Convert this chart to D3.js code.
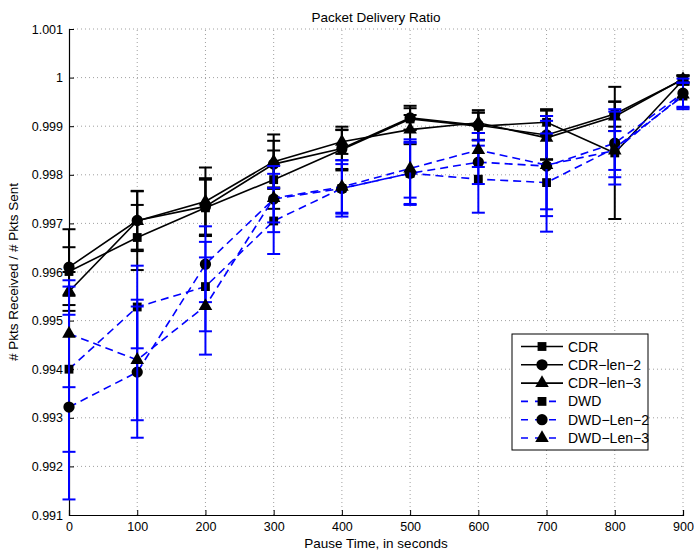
<!DOCTYPE html>
<html>
<head>
<meta charset="utf-8">
<script src="https://cdn.jsdelivr.net/npm/d3@7"></script>
<style>
  body { margin: 0; background: #fff; }
  text { font-family: "Liberation Sans", Arial, sans-serif; }
</style>
</head>
<body>
<div id="container"></div>
<script>
/* CONSTANTS AND GLOBALS */
const width = 694,
  height = 553,
  margin = { top: 29, bottom: 38, left: 69, right: 11 };

// pause times
const pauseTimes = [0, 100, 200, 300, 400, 500, 600, 700, 800, 900];
const seriesNames = ["CDR", "CDR\u2212len\u22122", "CDR\u2212len\u22123", "DWD", "DWD\u2212Len\u22122", "DWD\u2212Len\u22123"];

// mean delivery ratio per series
const cdr      = [0.99601, 0.99671, 0.99732, 0.99790, 0.99852, 0.99915, 0.99900, 0.99908, 0.99845, 0.99995];
const cdrLen2  = [0.99610, 0.99706, 0.99735, 0.99822, 0.99854, 0.99917, 0.99902, 0.99882, 0.99925, 0.99996];
const cdrLen3  = [0.99560, 0.99705, 0.99745, 0.99827, 0.99868, 0.99893, 0.99907, 0.99876, 0.99920, 0.99997];
const dwd      = [0.99400, 0.99528, 0.99570, 0.99705, 0.99772, 0.99803, 0.99791, 0.99784, 0.99855, 0.99962];
const dwdLen2  = [0.99322, 0.99394, 0.99616, 0.99750, 0.99772, 0.99803, 0.99826, 0.99818, 0.99865, 0.99968];
const dwdLen3  = [0.99473, 0.99419, 0.99530, 0.99752, 0.99775, 0.99813, 0.99851, 0.99820, 0.99850, 0.99965];

// error bar half widths
const cdrErr     = [0.00050, 0.00067, 0.00058, 0.00060, 0.00040, 0.00022, 0.00028, 0.00027, 0.00136, 0.00010];
const cdrLen2Err = [0.00078, 0.00060, 0.00058, 0.00048, 0.00045, 0.00025, 0.00031, 0.00050, 0.00026, 0.00008];
const cdrLen3Err = [0.00040, 0.00062, 0.00070, 0.00056, 0.00025, 0.00030, 0.00021, 0.00045, 0.00030, 0.00006];
const dwdErr     = [0.00170, 0.00085, 0.00092, 0.00068, 0.00050, 0.00065, 0.00069, 0.00101, 0.00075, 0.00027];
const dwdLen2Err = [0.00190, 0.00135, 0.00078, 0.00068, 0.00058, 0.00063, 0.00045, 0.00103, 0.00070, 0.00030];
const dwdLen3Err = [0.00110, 0.00124, 0.00100, 0.00050, 0.00055, 0.00060, 0.00035, 0.00091, 0.00040, 0.00025];

const yTicks = [0.991, 0.992, 0.993, 0.994, 0.995, 0.996, 0.997, 0.998, 0.999, 1, 1.001];

const series = [
  { name: seriesNames[0], values: cdr,     err: cdrErr,     color: "#000", dash: null,  marker: "square" },
  { name: seriesNames[1], values: cdrLen2, err: cdrLen2Err, color: "#000", dash: null,  marker: "circle" },
  { name: seriesNames[2], values: cdrLen3, err: cdrLen3Err, color: "#000", dash: null,  marker: "triangle" },
  { name: seriesNames[3], values: dwd,     err: dwdErr,     color: "#0000ff", dash: "8,5", marker: "square" },
  { name: seriesNames[4], values: dwdLen2, err: dwdLen2Err, color: "#0000ff", dash: "8,5", marker: "circle" },
  { name: seriesNames[5], values: dwdLen3, err: dwdLen3Err, color: "#0000ff", dash: "8,5", marker: "triangle" }
];

const symbolOf = {
  square: d3.symbol().type(d3.symbolSquare).size(78),
  circle: d3.symbol().type(d3.symbolCircle).size(100),
  triangle: d3.symbol().type(d3.symbolTriangle).size(80)
};

/* SCALES */
const xScale = d3.scaleLinear()
  .domain([0, 900])
  .range([margin.left, width - margin.right]);

const yScale = d3.scaleLinear()
  .domain([0.991, 1.001])
  .range([height - margin.bottom, margin.top]);

/* SVG */
const svg = d3.select("#container").append("svg")
  .attr("width", width)
  .attr("height", height);

// grid
svg.append("g")
  .selectAll("line")
  .data(pauseTimes.slice(1))
  .join("line")
  .attr("x1", d => xScale(d)).attr("x2", d => xScale(d))
  .attr("y1", yScale(0.991)).attr("y2", yScale(1.001))
  .attr("stroke", "#888").attr("stroke-width", 0.8)
  .attr("stroke-dasharray", "1,3");

svg.append("g")
  .selectAll("line")
  .data(yTicks.slice(1))
  .join("line")
  .attr("x1", xScale(0)).attr("x2", xScale(900))
  .attr("y1", d => yScale(d)).attr("y2", d => yScale(d))
  .attr("stroke", "#888").attr("stroke-width", 0.8)
  .attr("stroke-dasharray", "1,3");

// axes
const xAxis = svg.append("g")
  .attr("transform", `translate(0, ${yScale(0.991)})`)
  .call(d3.axisBottom(xScale).tickValues(pauseTimes).tickSize(-5).tickPadding(7).tickFormat(d3.format("d")));

const yAxis = svg.append("g")
  .attr("transform", `translate(${xScale(0)}, 0)`)
  .call(d3.axisLeft(yScale).tickValues(yTicks).tickSize(-5).tickPadding(6)
    .tickFormat(d => d === 1 ? "1" : d3.format(".3f")(d)));

[xAxis, yAxis].forEach(ax => {
  ax.select(".domain").attr("stroke", "#000").attr("stroke-width", 1.2);
  ax.selectAll(".tick line").attr("stroke", "#000");
  ax.selectAll(".tick text").attr("fill", "#000")
    .style("font-size", "12.5px");
});

// lines
const lineGen = d3.line()
  .x((d, i) => xScale(pauseTimes[i]))
  .y(d => yScale(d));

const plot = svg.append("g");

series.forEach(s => {
  // error bars
  const eb = plot.append("g");
  eb.selectAll("line.stem")
    .data(s.values)
    .join("line")
    .attr("class", "stem")
    .attr("x1", (d, i) => xScale(pauseTimes[i])).attr("x2", (d, i) => xScale(pauseTimes[i]))
    .attr("y1", (d, i) => yScale(d - s.err[i])).attr("y2", (d, i) => yScale(d + s.err[i]))
    .attr("stroke", s.color).attr("stroke-width", 2);
  [-1, 1].forEach(sign => {
    eb.selectAll("line.cap" + (sign > 0 ? "hi" : "lo"))
      .data(s.values)
      .join("line")
      .attr("class", "cap" + (sign > 0 ? "hi" : "lo"))
      .attr("x1", (d, i) => xScale(pauseTimes[i]) - 6.5)
      .attr("x2", (d, i) => xScale(pauseTimes[i]) + 6.5)
      .attr("y1", (d, i) => yScale(d + sign * s.err[i]))
      .attr("y2", (d, i) => yScale(d + sign * s.err[i]))
      .attr("stroke", s.color).attr("stroke-width", 2);
  });

  plot.append("path")
    .datum(s.values)
    .attr("d", lineGen)
    .attr("fill", "none")
    .attr("stroke", s.color)
    .attr("stroke-width", 1.6)
    .attr("stroke-dasharray", s.dash);

  plot.append("g")
    .selectAll("path")
    .data(s.values)
    .join("path")
    .attr("d", symbolOf[s.marker])
    .attr("transform", (d, i) => `translate(${xScale(pauseTimes[i])}, ${yScale(d)})`)
    .attr("fill", "#000");
});

// title + labels
svg.append("text")
  .attr("x", (xScale(0) + xScale(900)) / 2)
  .attr("y", 22)
  .attr("text-anchor", "middle")
  .style("font-size", "13.5px")
  .text("Packet Delivery Ratio");

svg.append("text")
  .attr("x", (xScale(0) + xScale(900)) / 2)
  .attr("y", 548)
  .attr("text-anchor", "middle")
  .style("font-size", "13.5px")
  .text("Pause Time, in seconds");

svg.append("text")
  .attr("transform", `translate(18, ${(yScale(0.991) + yScale(1.001)) / 2}) rotate(-90)`)
  .attr("text-anchor", "middle")
  .style("font-size", "13.5px")
  .text("# Pkts Received / # Pkts Sent");

// legend
const legend = svg.append("g").attr("transform", "translate(512, 334)");
legend.append("rect")
  .attr("width", 136).attr("height", 116)
  .attr("fill", "#fff").attr("stroke", "#000").attr("stroke-width", 1);

const rows = legend.selectAll("g.row")
  .data(series)
  .join("g")
  .attr("class", "row")
  .attr("transform", (d, i) => `translate(0, ${12.5 + i * 18.3})`);

rows.append("line")
  .attr("x1", 9).attr("x2", 51)
  .attr("stroke", d => d.color)
  .attr("stroke-width", 1.6)
  .attr("stroke-dasharray", d => d.dash ? "7,7" : null);

rows.append("path")
  .attr("d", d => symbolOf[d.marker]())
  .attr("transform", "translate(30, 0)")
  .attr("fill", "#000");

rows.append("text")
  .attr("x", 56)
  .attr("y", 5)
  .style("font-size", "14px")
  .text(d => d.name);
</script>
</body>
</html>
